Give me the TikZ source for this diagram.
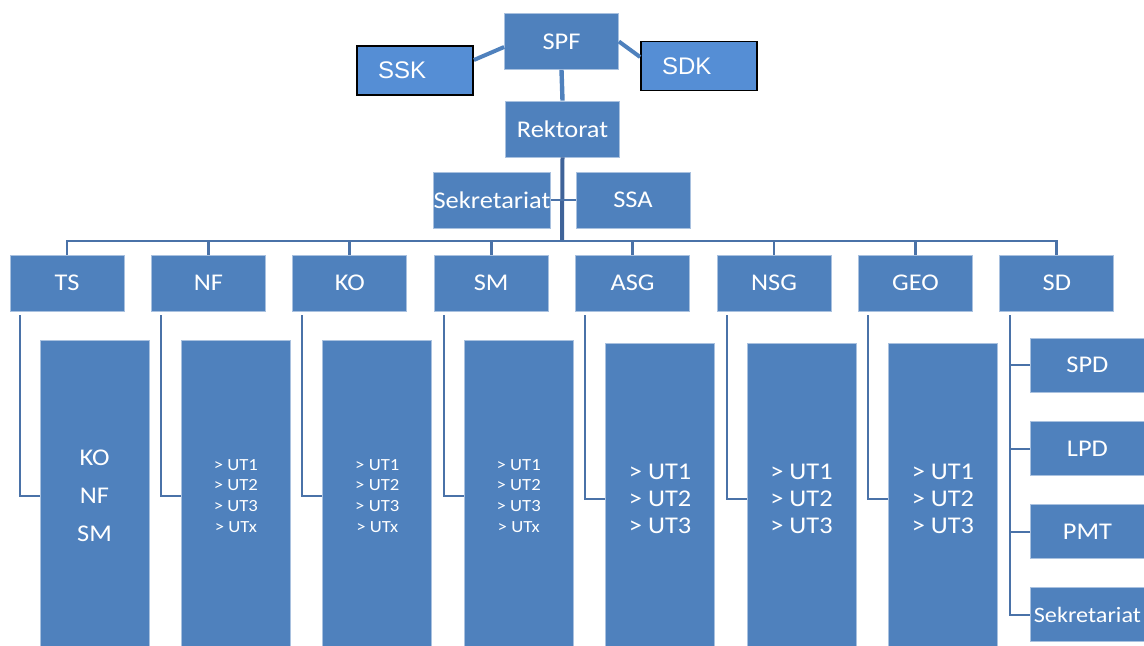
\documentclass[tikz,border=0pt]{standalone}
\usepackage{fontspec}
\setmainfont{Carlito}[FakeStretch=1.1]
\newfontfamily\arialfont{Liberation Sans}
\usetikzlibrary{positioning}
\definecolor{unitblue}{HTML}{4F81BD}
\definecolor{unitedge}{HTML}{A9C1DF}
\definecolor{extblue}{HTML}{558ED5}
\definecolor{trunkcol}{HTML}{3F6399}
\definecolor{branchcol}{HTML}{4A72A8}
\tikzset{unit/.style={draw=unitedge,line width=0.4pt,fill=unitblue,text=white,font=\fontsize{12}{14}\selectfont,minimum width=57pt,minimum height=28pt,inner sep=0pt}}
\tikzset{tall/.style={unit,anchor=north,minimum width=54.5pt,minimum height=155pt,align=center}}
\tikzset{sdunit/.style={unit,minimum width=57pt,minimum height=27pt,anchor=west}}
\tikzset{ext/.style={draw=black,line width=0.9pt,fill=extblue,text=white,font=\arialfont\fontsize{12}{14}\selectfont,inner xsep=10.5pt,inner ysep=0pt,text width=37pt,align=left,minimum height=24.5pt}}
\tikzset{link/.style={draw=branchcol,line width=1pt}}
\tikzset{utsmall/.style={font=\fontsize{8.5}{10.3}\selectfont}}
\tikzset{utbig/.style={font=\fontsize{12}{13.5}\selectfont}}

\begin{document}
\begin{tikzpicture}[x=0.5pt,y=-0.5pt,node distance=70.7pt,on grid]
    \useasboundingbox (0,0) rectangle (1144,645);
    \clip (0,0) rectangle (1144,645);
    % top of the chart
    \node[unit] (spf) at (561.5,41.5) {SPF};
    \node[ext] (ssk) at (415,70.5) {SSK};
    \node[ext] (sdk) at (699,66) {SDK};
    \node[unit] (rek) at (562.5,129) {Rektorat};
    \node[unit] (sek) at (492,200) {Sekretariat};
    \node[unit] (ssa) at (633,200) {SSA};
    \draw[draw=unitblue,line width=2pt] ([yshift=5.25pt]ssk.east) -- ([yshift=-2.75pt]spf.west);
    \draw[draw=unitblue,line width=2pt] (spf.east) -- ([yshift=4.5pt]sdk.west);
    \draw[draw=unitblue,line width=2.2pt] (spf.south) -- (rek.north);
    % units
    \node[unit] (ts) at (67,283) {TS};
    \node[unit, right=of ts] (nf) {NF};
    \node[unit, right=of nf] (ko) {KO};
    \node[unit, right=of ko] (sm) {SM};
    \node[unit, right=of sm] (asg) {ASG};
    \node[unit, right=of asg] (nsg) {NSG};
    \node[unit, right=of nsg] (geo) {GEO};
    \node[unit, right=of geo] (sd) {SD};
    \coordinate (hub) at (562,241);
    \draw[draw=trunkcol,line width=2pt] (rek.south) -- (hub);
    \draw[link] (sek.east) -- (ssa.west);
    \foreach \u in {ts,nf,ko,sm,asg,nsg,geo,sd}
        \draw[draw=branchcol,line width=1.4pt] (hub) -| (\u.north);
    % sub units
    \node[tall, font=\fontsize{12}{19}\selectfont] (tssub) at ([shift={(13.75pt,-14.5pt)}]ts.south) {KO\\NF\\SM};
    \node[tall, utsmall] (nfsub) at ([shift={(13.75pt,-14.5pt)}]nf.south) {> UT1\\> UT2\\> UT3\\> UTx};
    \node[tall, utsmall] (kosub) at ([shift={(13.75pt,-14.5pt)}]ko.south) {> UT1\\> UT2\\> UT3\\> UTx};
    \node[tall, utsmall] (smsub) at ([shift={(13.75pt,-14.5pt)}]sm.south) {> UT1\\> UT2\\> UT3\\> UTx};
    \node[tall, utbig] (asgsub) at ([shift={(13.75pt,-16pt)}]asg.south) {> UT1\\> UT2\\> UT3};
    \node[tall, utbig] (nsgsub) at ([shift={(13.75pt,-16pt)}]nsg.south) {> UT1\\> UT2\\> UT3};
    \node[tall, utbig] (geosub) at ([shift={(13.75pt,-16pt)}]geo.south) {> UT1\\> UT2\\> UT3};
    \foreach \u in {ts,nf,ko,sm,asg,nsg,geo}
        \draw[link] ([shift={(5pt,-2pt)}]\u.south west) |- (\u sub.west);
    % SD sub units
    \node[sdunit] (spd) at (1030,365) {SPD};
    \node[sdunit] (lpd) at (1030,448.5) {LPD};
    \node[sdunit] (pmt) at (1030,531.5) {PMT};
    \node[sdunit, font=\fontsize{11}{13}\selectfont] (sdsek) at (1030,614.5) {Sekretariat};
    \coordinate (sdv) at ([shift={(5.5pt,-2pt)}]sd.south west);
    \draw[link] (sdv) |- (sdsek.west);
    \foreach \u in {spd,lpd,pmt}
        \draw[link] (\u.west) -- (\u.west -| sdv);
\end{tikzpicture}
\end{document}
